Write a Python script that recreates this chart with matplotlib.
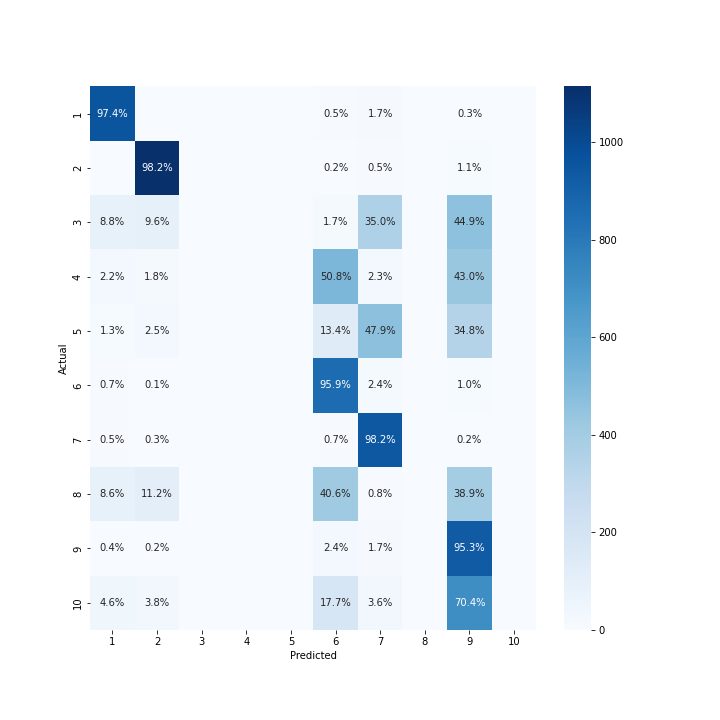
import numpy as np
import matplotlib
matplotlib.use('Agg')
import matplotlib.pyplot as plt
import seaborn as sns

labels = ['1', '2', '3', '4', '5', '6', '7', '8', '9', '10']

# samples per actual class
row_totals = [980, 1135, 1032, 1010, 982, 892, 958, 1028, 974, 1009]

# row percentages shown in the cells (0 = empty cell)
pct = [
    [97.4, 0.0, 0, 0, 0, 0.5, 1.7, 0, 0.3, 0],
    [0.0, 98.2, 0, 0, 0, 0.2, 0.5, 0, 1.1, 0],
    [8.8, 9.6, 0, 0, 0, 1.7, 35.0, 0, 44.9, 0],
    [2.2, 1.8, 0, 0, 0, 50.8, 2.3, 0, 43.0, 0],
    [1.3, 2.5, 0, 0, 0, 13.4, 47.9, 0, 34.8, 0],
    [0.7, 0.1, 0, 0, 0, 95.9, 2.4, 0, 1.0, 0],
    [0.5, 0.3, 0, 0, 0, 0.7, 98.2, 0, 0.2, 0],
    [8.6, 11.2, 0, 0, 0, 40.6, 0.8, 0, 38.9, 0],
    [0.4, 0.2, 0, 0, 0, 2.4, 1.7, 0, 95.3, 0],
    [4.6, 3.8, 0, 0, 0, 17.7, 3.6, 0, 70.4, 0],
]

pct = np.array(pct, dtype=float)
counts = np.round(pct / 100 * np.array(row_totals)[:, None])
annot = np.where(pct > 0, np.char.add(np.char.mod('%.1f', pct), '%'), '')

fig, ax = plt.subplots(figsize=(10, 10), dpi=72)
fig.subplots_adjust(bottom=0.125, top=0.88)
sns.heatmap(counts, annot=annot, fmt='', cmap='Blues', ax=ax,
            xticklabels=labels, yticklabels=labels, vmin=0)
ax.set_xlabel('Predicted')
ax.set_ylabel('Actual')
plt.setp(ax.get_yticklabels(), rotation=90, va='center')
plt.setp(ax.get_xticklabels(), rotation=0)
plt.savefig('out.png', dpi=72)
